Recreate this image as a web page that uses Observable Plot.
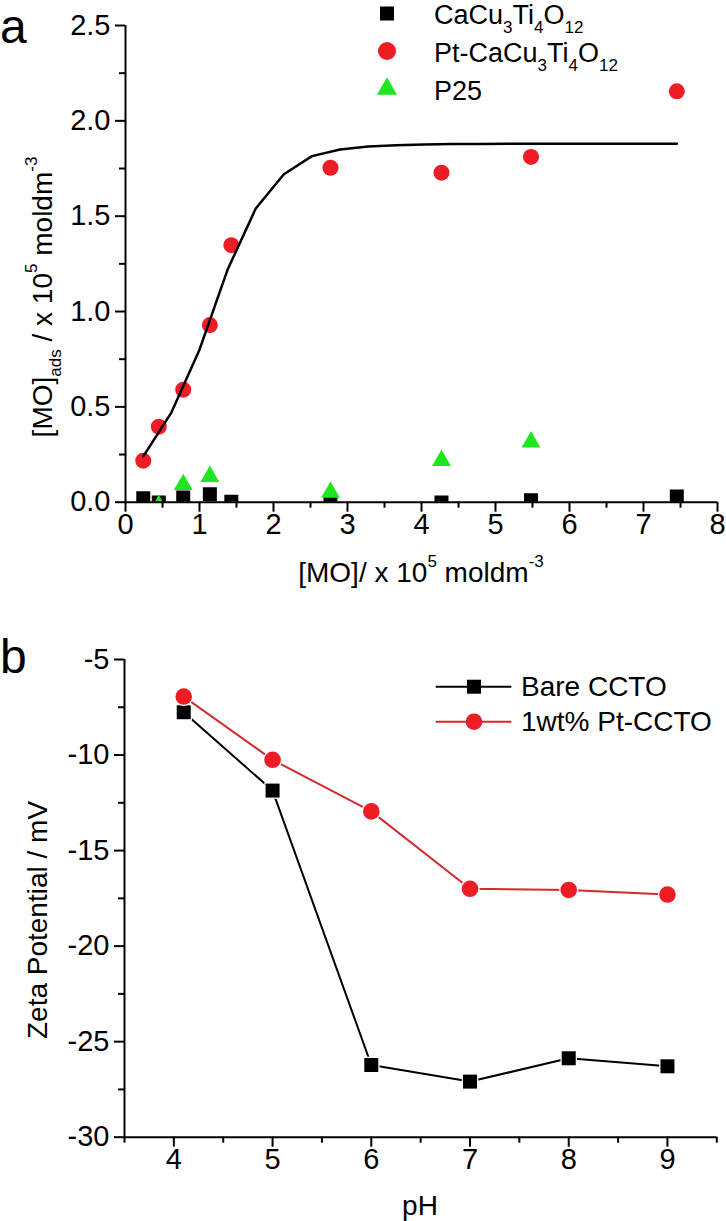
<!DOCTYPE html>
<html><head><meta charset="utf-8">
<script src="https://cdn.jsdelivr.net/npm/d3@7"></script>
<script src="https://cdn.jsdelivr.net/npm/@observablehq/plot@0.6"></script>
<style>
body{margin:0;background:#fff;}
#chart{position:relative;width:726px;height:1221px;}
#chart svg{display:block;}
</style></head><body><div id="chart"></div>
<script>
// ---------- Panel a data ----------
const concMO   = [0.24, 0.45, 0.78, 1.14, 1.43, 2.77, 4.27, 5.48, 7.45];
const cctoAds  = [0.021, -0.002, 0.025, 0.042, 0.002, 0.0, -0.002, 0.01, 0.03];
const ptAds    = [0.218, 0.396, 0.59, 0.929, 1.348, 1.754, 1.728, 1.811, 2.155];
const p25Conc  = [0.45, 0.78, 1.14, 1.43, 2.77, 4.27, 5.48];
const p25Ads   = [-0.018, 0.092, 0.135, -0.05, 0.052, 0.219, 0.316];
const fitConc  = [0.24, 0.62, 1.00, 1.38, 1.76, 2.14, 2.52, 2.90, 3.28, 3.66, 4.04, 4.42, 4.79, 5.17, 5.55, 5.93, 6.31, 6.69, 7.07, 7.45];
const fitAds   = [0.24, 0.47, 0.80, 1.22, 1.54, 1.72, 1.815, 1.85, 1.865, 1.872, 1.876, 1.878, 1.879, 1.88, 1.88, 1.88, 1.88, 1.88, 1.88, 1.88];
const aXTicks  = [0, 1, 2, 3, 4, 5, 6, 7, 8];
const aXMinor  = [0.5, 1.5, 2.5, 3.5, 4.5, 5.5, 6.5, 7.5];
const aYTicks  = [0, 0.5, 1.0, 1.5, 2.0, 2.5];
const aYMinor  = [0.25, 0.75, 1.25, 1.75, 2.25];

// ---------- Panel b data ----------
const pH       = [4.1, 5, 6, 7, 8, 9];
const bareZeta = [-7.76, -11.86, -26.22, -27.09, -25.87, -26.29];
const ptZeta   = [-6.94, -10.25, -12.95, -17.0, -17.06, -17.3];
const bXTicks  = [4, 5, 6, 7, 8, 9];
const bXMinor  = [3.5, 4.5, 5.5, 6.5, 7.5, 8.5, 9.5];
const bYTicks  = [-30, -25, -20, -15, -10, -5];
const bYMinor  = [-27.5, -22.5, -17.5, -12.5, -7.5];

const FONT = '"Liberation Sans", Arial, Helvetica, sans-serif';
const RED = "#ee1c25", RED_LINE = "#d42a2d", GREEN = "#1fe61f", BLACK = "#000";
const TICK_FS = 29, LABEL_FS = 28, LEGEND_FS = 27;

const tabA = (xs, ys) => xs.map((x, i) => ({x, y: ys[i]}));
const ccto = tabA(concMO, cctoAds), pt = tabA(concMO, ptAds), p25 = tabA(p25Conc, p25Ads), fit = tabA(fitConc, fitAds);
const bare = tabA(pH, bareZeta), ptb = tabA(pH, ptZeta);

const style = {fontFamily: FONT, fontSize: TICK_FS + "px", color: BLACK, background: "#fff", overflow: "visible"};
const fmtA = d => d.toFixed(1);
const fmtInt = d => String(d);

const plotA = Plot.plot({
  width: 726, height: 610,
  marginTop: 25, marginBottom: 108.3, marginLeft: 125, marginRight: 9,
  x: {domain: [0, 8], axis: null},
  y: {domain: [0, 2.5], axis: null},
  style,
  marks: [
    Plot.dot(ccto, {x: "x", y: "y", symbol: "square", r: 7.9, fill: BLACK, clip: true}),
    Plot.dot(pt, {x: "x", y: "y", symbol: "circle", r: 8, fill: RED, clip: true}),
    Plot.dot(p25, {x: "x", y: "y", symbol: "triangle", r: 7, fill: GREEN, clip: true}),
    Plot.line(fit, {x: "x", y: "y", stroke: BLACK, strokeWidth: 2.5}),
    Plot.axisX({ticks: aXTicks, tickSize: 10, tickPadding: 1, strokeWidth: 2, label: null, tickFormat: fmtInt, fontSize: TICK_FS}),
    Plot.axisX({ticks: aXMinor, tickSize: 6, strokeWidth: 2, label: null, tickFormat: () => ""}),
    Plot.axisY({ticks: aYTicks, tickSize: 10, tickPadding: 5, strokeWidth: 2, label: null, tickFormat: fmtA, fontSize: TICK_FS}),
    Plot.axisY({ticks: aYMinor, tickSize: 6, strokeWidth: 2, label: null, tickFormat: () => ""}),
    Plot.ruleX([0], {strokeWidth: 2}),
    Plot.ruleY([0], {strokeWidth: 2})
  ]
});

const plotB = Plot.plot({
  width: 726, height: 611,
  marginTop: 49, marginBottom: 84.3, marginLeft: 124, marginRight: 9.7,
  x: {domain: [3.5, 9.5], axis: null},
  y: {domain: [-30, -5], axis: null},
  style,
  marks: [
    Plot.line(bare, {x: "x", y: "y", stroke: BLACK, strokeWidth: 2}),
    Plot.dot(bare, {x: "x", y: "y", symbol: "square", r: 9.3, fill: "#fff"}),
    Plot.dot(bare, {x: "x", y: "y", symbol: "square", r: 7.9, fill: BLACK}),
    Plot.line(ptb, {x: "x", y: "y", stroke: RED_LINE, strokeWidth: 2}),
    Plot.dot(ptb, {x: "x", y: "y", symbol: "circle", r: 9.6, fill: "#fff"}),
    Plot.dot(ptb, {x: "x", y: "y", symbol: "circle", r: 8.3, fill: RED}),
    Plot.axisX({ticks: bXTicks, tickSize: 10, tickPadding: 1, strokeWidth: 2, label: null, tickFormat: fmtInt, fontSize: TICK_FS}),
    Plot.axisX({ticks: bXMinor, tickSize: 6, strokeWidth: 2, label: null, tickFormat: () => ""}),
    Plot.axisY({ticks: bYTicks, tickSize: 10, tickPadding: 5, strokeWidth: 2, label: null, tickFormat: fmtInt, fontSize: TICK_FS}),
    Plot.axisY({ticks: bYMinor, tickSize: 6, strokeWidth: 2, label: null, tickFormat: () => ""}),
    Plot.ruleX([3.5], {strokeWidth: 2}),
    Plot.ruleY([-30], {strokeWidth: 2})
  ]
});

for (const svg of [plotA, plotB]) {
  d3.select(svg).selectAll('g[aria-label$="tick label"]').attr("font-size", TICK_FS).attr("font-family", FONT);
  d3.select(svg).selectAll('g[aria-label$="tick label"] text').attr("font-size", TICK_FS);
}

const chart = document.getElementById("chart");
chart.appendChild(plotA);
chart.appendChild(plotB);

// ---------- text helpers ----------
function richText(svg, x, y, parts, {size = 27, anchor = "start", rotate = 0} = {}) {
  const t = d3.select(svg).append("text")
    .attr("font-family", FONT).attr("font-size", size)
    .attr("text-anchor", anchor).attr("fill", BLACK)
    .attr("transform", `translate(${x},${y}) rotate(${rotate})`);
  let shift = 0;
  for (const p of parts) {
    const target = p.sub ? 9 : p.sup ? -15 : 0;
    t.append("tspan").attr("dy", target - shift)
      .attr("font-size", (p.sub || p.sup) ? 17 : size).text(p.t);
    shift = target;
  }
  return t;
}
function symbolAt(svg, type, r, x, y, fill) {
  d3.select(svg).append("path")
    .attr("d", d3.symbol(type, Math.PI * r * r)())
    .attr("transform", `translate(${x},${y})`).attr("fill", fill);
}

// ---------- Panel a labels & legend ----------
richText(plotA, 0, 43, [{t: "a"}], {size: 48});
richText(plotA, 421, 582, [{t: "[MO]/ x 10"}, {t: "5", sup: true}, {t: " moldm"}, {t: "-3", sup: true}], {size: LABEL_FS, anchor: "middle"});
richText(plotA, 52, 297, [{t: "[MO]"}, {t: "ads", sub: true}, {t: " / x 10"}, {t: "5", sup: true}, {t: " moldm"}, {t: "-3", sup: true}], {size: LABEL_FS, anchor: "middle", rotate: -90});

const legendA = [
  {parts: [{t: "CaCu"}, {t: "3", sub: true}, {t: "Ti"}, {t: "4", sub: true}, {t: "O"}, {t: "12", sub: true}], sym: d3.symbolSquare, r: 7.9, fill: BLACK, y: 13.5},
  {parts: [{t: "Pt-CaCu"}, {t: "3", sub: true}, {t: "Ti"}, {t: "4", sub: true}, {t: "O"}, {t: "12", sub: true}], sym: d3.symbolCircle, r: 9, fill: RED, y: 51},
  {parts: [{t: "P25"}], sym: d3.symbolTriangle, r: 7.5, fill: GREEN, y: 89}
];
for (const L of legendA) {
  symbolAt(plotA, L.sym, L.r, 387, L.y, L.fill);
  richText(plotA, 434, L.y + 10.5, L.parts, {size: LEGEND_FS});
}

// ---------- Panel b labels & legend ----------
richText(plotB, 0, 63, [{t: "b"}], {size: 48});
richText(plotB, 420, 605, [{t: "pH"}], {size: LABEL_FS, anchor: "middle"});
richText(plotB, 47, 310, [{t: "Zeta Potential / mV"}], {size: LABEL_FS, anchor: "middle", rotate: -90});

const legendB = [
  {label: "Bare CCTO", sym: d3.symbolSquare, r: 7.9, fill: BLACK, line: BLACK, y: 76.7},
  {label: "1wt% Pt-CCTO", sym: d3.symbolCircle, r: 8.3, fill: RED, line: RED_LINE, y: 111.7}
];
for (const L of legendB) {
  d3.select(plotB).append("line").attr("x1", 435.7).attr("x2", 511.3)
    .attr("y1", L.y).attr("y2", L.y).attr("stroke", L.line).attr("stroke-width", 2);
  symbolAt(plotB, L.sym, L.r, 474, L.y, L.fill);
  richText(plotB, 521, L.y + 9.5, [{t: L.label}], {size: 28});
}
</script>
</body></html>
